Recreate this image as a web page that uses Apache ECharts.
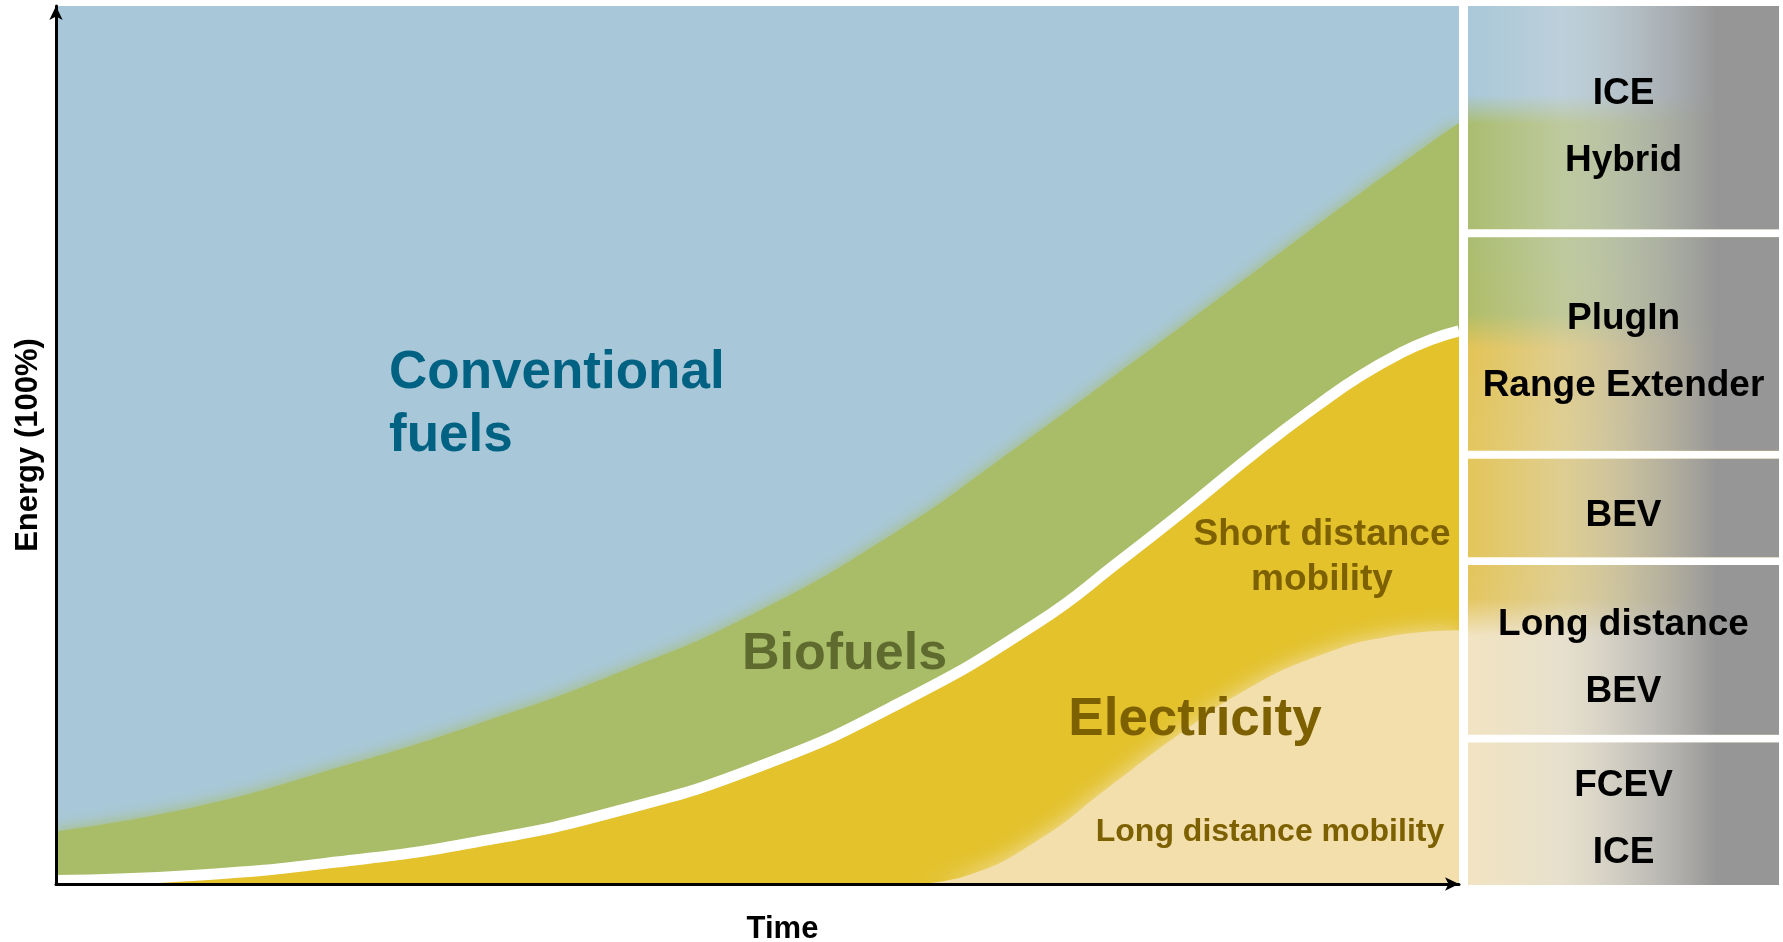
<!DOCTYPE html>
<html>
<head>
<meta charset="utf-8">
<style>html,body{margin:0;padding:0;background:#fff}#c{width:1783px;height:942px}</style>
<script src="https://cdn.jsdelivr.net/npm/echarts@6/dist/echarts.min.js"></script>
</head>
<body>
<div id="c"></div>
<script>
// ---- data (percent of energy over normalised time 0..100) ----
const convTime = [0, 100];
const convTop  = [100, 100];
const bioTime  = [0, 10, 20, 30, 40, 50, 60, 67, 77, 86, 93, 100];
const bioTop   = [6, 8.8, 13.2, 18.2, 24, 31, 40.2, 48, 59.7, 70.4, 78.7, 86.7];
const elecTime = [0, 10, 20, 30, 40, 50, 60, 70, 76, 80, 86, 90, 93, 96, 98, 100];
const elecTop  = [0.4, 1.0, 2.5, 4.8, 8.3, 13.3, 20.5, 29.8, 37, 42, 49.8, 54.6, 57.9, 60.6, 62, 63];
const longTime = [61, 65, 70, 75, 80, 85, 90, 95, 100];
const longTop  = [0, 1, 5, 11, 17, 22.3, 26, 28.2, 28.9];
// side panel: vehicle technologies and their vertical spans (percent of panel)
const panelLabels = [['ICE', 'Hybrid'], ['PlugIn', 'Range Extender'], ['BEV'], ['Long distance', 'BEV'], ['FCEV', 'ICE']];
const panelLow  = [74.6, 49.4, 37.3, 17.1, 0];
const panelHigh = [100, 73.7, 48.5, 36.4, 16.2];

const zip = (a, b) => a.map((v, i) => [v, b[i]]);
const FONT = '"Liberation Sans", Arial, sans-serif';
const BLUE = '#a8c8d9', GREEN = '#a9bd69', YELLOW = '#e3c22b', BEIGE = '#f2dfab';

const panelFills = [
  [[0, '#a9c8d9'], [0.40, '#a9c8d9'], [0.53, '#abbd70'], [1, '#abbd70']],
  [[0, '#abbd70'], [0.36, '#b0bd68'], [0.52, '#e3c457'], [1, '#e4c65e']],
  [[0, '#e4c55a'], [1, '#e4c55a']],
  [[0, '#e4c55a'], [0.2, '#e4c660'], [0.42, '#f2e4c2'], [1, '#f2e4c2']],
  [[0, '#f2e4c2'], [1, '#f2e4c2']]
];
const panelTextShift = [10, 8, 8, 8, 5];
const overlayStops = [
  {offset: 0, color: 'rgba(215,218,220,0)'},
  {offset: 0.3, color: 'rgba(215,218,220,0.42)'},
  {offset: 0.55, color: 'rgba(180,182,184,0.72)'},
  {offset: 0.8, color: 'rgba(150,150,150,1)'},
  {offset: 1, color: 'rgba(150,150,150,1)'}
];

function txt(text, x, y, size, color, align) {
  return {
    type: 'text', z: 100, silent: true,
    style: {
      text: text, x: x, y: y, fill: color,
      font: 'bold ' + size + 'px ' + FONT,
      textAlign: align || 'center', align: align || 'center',
      textVerticalAlign: 'middle', verticalAlign: 'middle'
    }
  };
}

const chart = echarts.init(document.getElementById('c'), null, {renderer: 'canvas'});
const hiddenAxis = {
  type: 'value', min: 0, max: 100,
  axisTick: {show: false}, axisLabel: {show: false}, splitLine: {show: false}
};
chart.setOption({
  animation: false,
  backgroundColor: '#fff',
  grid: [
    {left: 56, top: 6, width: 1403, height: 878, containLabel: false, outerBoundsMode: 'none'},
    {left: 1468, top: 6, width: 311, height: 879, containLabel: false, outerBoundsMode: 'none'}
  ],
  xAxis: [
    Object.assign({}, hiddenAxis, {
      gridIndex: 0, z: 10,
      axisLine: {show: true, symbol: ['none', 'arrow'], symbolSize: [10, 14], lineStyle: {color: '#000', width: 3}},
      name: 'Time', nameLocation: 'middle', nameGap: 30,
      nameTextStyle: {fontFamily: FONT, fontWeight: 'bold', fontSize: 31, color: '#000', padding: [0, 0, 0, 50]}
    }),
    Object.assign({}, hiddenAxis, {gridIndex: 1, min: 0, max: 1, show: false})
  ],
  yAxis: [
    Object.assign({}, hiddenAxis, {
      gridIndex: 0, z: 10,
      axisLine: {show: true, symbol: ['none', 'arrow'], symbolSize: [10, 14], lineStyle: {color: '#000', width: 3}},
      name: 'Energy (100%)', nameLocation: 'middle', nameGap: 12, nameRotate: 90,
      nameTextStyle: {fontFamily: FONT, fontWeight: 'bold', fontSize: 31, color: '#000'}
    }),
    Object.assign({}, hiddenAxis, {gridIndex: 1, show: false})
  ],
  series: [
    {
      name: 'Conventional fuels', type: 'line', data: zip(convTime, convTop),
      symbol: 'none', lineStyle: {width: 0}, areaStyle: {color: BLUE, opacity: 1}
    },
    {
      name: 'Biofuels', type: 'line', data: zip(bioTime, bioTop), smooth: true,
      symbol: 'none', lineStyle: {width: 0},
      areaStyle: {color: GREEN, opacity: 1, shadowBlur: 16, shadowColor: GREEN}
    },
    {
      name: 'Electricity', type: 'line', data: zip(elecTime, elecTop), smooth: true,
      symbol: 'none', lineStyle: {width: 11, color: '#fff'},
      areaStyle: {color: YELLOW, opacity: 1}
    },
    {
      name: 'Long distance mobility', type: 'line', data: zip(longTime, longTop), smooth: true,
      symbol: 'none', lineStyle: {width: 0},
      areaStyle: {color: BEIGE, opacity: 1, shadowBlur: 22, shadowColor: BEIGE}
    },
    {
      name: 'Vehicles', type: 'custom', xAxisIndex: 1, yAxisIndex: 1,
      data: panelLabels.map((l, i) => [panelLow[i], panelHigh[i], i]),
      encode: {y: [0, 1]},
      renderItem: function (params, api) {
        const lo = api.value(0), hi = api.value(1), idx = api.value(2);
        const tl = api.coord([0, hi]);
        const br = api.coord([1, lo]);
        const x = tl[0], y = tl[1], w = br[0] - tl[0], h = br[1] - tl[1];
        const lines = panelLabels[idx];
        const cx = x + w / 2, cy = y + h / 2 + panelTextShift[idx];
        const children = [
          {type: 'rect', shape: {x: x, y: y, width: w, height: h},
           style: {fill: {type: 'linear', x: 0, y: 0, x2: 0, y2: 1,
             colorStops: panelFills[idx].map(s => ({offset: s[0], color: s[1]}))}}},
          {type: 'rect', shape: {x: x, y: y, width: w, height: h},
           style: {fill: {type: 'linear', x: 0, y: 0, x2: 1, y2: 0, colorStops: overlayStops}}}
        ];
        const lh = 67;
        lines.forEach((t, k) => {
          const ty = cy + (k - (lines.length - 1) / 2) * lh;
          children.push({
            type: 'text',
            style: {text: t, x: cx, y: ty, fill: '#000', font: 'bold 37px ' + FONT,
              textAlign: 'center', align: 'center', textVerticalAlign: 'middle', verticalAlign: 'middle'}
          });
        });
        return {type: 'group', children: children};
      }
    }
  ],
  graphic: [
    txt('Conventional', 389, 373, 53, '#006283', 'left'),
    txt('fuels', 389, 436, 53, '#006283', 'left'),
    txt('Biofuels', 742, 655, 52, '#5e6a2e', 'left'),
    txt('Electricity', 1195, 720, 53, '#7d6000'),
    txt('Short distance', 1322, 535, 37, '#7d6000'),
    txt('mobility', 1322, 580, 37, '#7d6000'),
    txt('Long distance mobility', 1270, 832, 32, '#7d6000')
  ]
});
</script>
</body>
</html>
